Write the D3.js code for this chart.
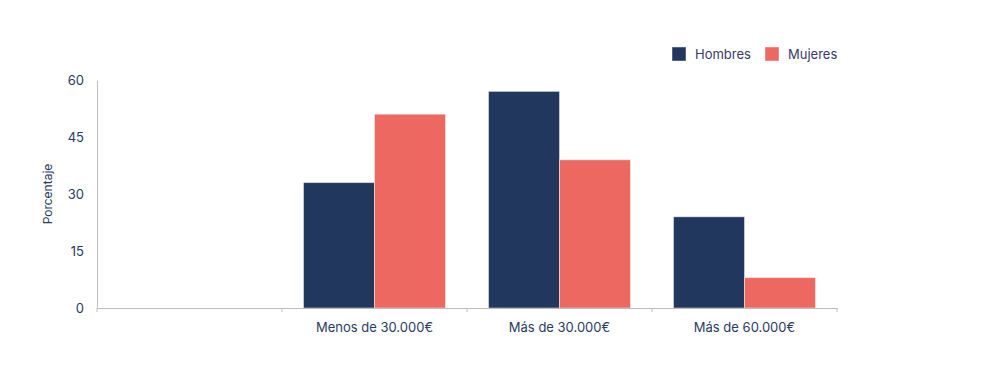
<!DOCTYPE html>
<html>
<head>
<meta charset="utf-8">
<script src="https://cdn.jsdelivr.net/npm/d3@7"></script>
<style>
  body { margin: 0; background: #fff; }
  text { font-family: Inter, "Noto Sans", sans-serif; }
</style>
</head>
<body>
<script>
// categories (first slot is empty in the original)
const categories = ["", "Menos de 30.000€", "Más de 30.000€", "Más de 60.000€"];
const seriesNames = ["Hombres", "Mujeres"];
const hombres = [null, 33, 57, 24];
const mujeres = [null, 51, 39, 8];
const yTicks = [0, 15, 30, 45, 60];
const colors = ["#22375e", "#ee6862"];

const width = 988, height = 377;
const margin = { top: 80, right: 151, bottom: 69, left: 97 };

const svg = d3.select("body").append("svg")
    .attr("width", width)
    .attr("height", height);

const x = d3.scaleBand()
    .domain(categories.map((d, i) => i))
    .range([margin.left, width - margin.right]);

const xInner = d3.scaleBand()
    .domain(seriesNames)
    .range([0, x.bandwidth()])
    .paddingOuter(0.303)
    .paddingInner(0);

const y = d3.scaleLinear()
    .domain([0, 60])
    .range([height - margin.bottom, margin.top]);

const textColor = "#2a3b5e";

// y axis
const yAxis = svg.append("g")
    .attr("transform", `translate(${margin.left},0)`)
    .call(d3.axisLeft(y).tickValues(yTicks).tickSize(0).tickPadding(13));
yAxis.select(".domain").attr("stroke", "#bdbdbd");
yAxis.selectAll("text")
    .attr("fill", textColor)
    .style("font-size", "13px");

svg.append("text")
    .attr("transform", `translate(52,${(y(0) + y(60)) / 2}) rotate(-90)`)
    .attr("text-anchor", "middle")
    .attr("fill", textColor)
    .style("font-size", "12px")
    .text("Porcentaje");

// bars
const rows = categories.map((c, i) => ({ i, values: [hombres[i], mujeres[i]] }));
const groups = svg.append("g")
    .selectAll("g")
    .data(rows)
    .join("g")
    .attr("transform", d => `translate(${x(d.i)},0)`);

groups.selectAll("rect")
    .data(d => d.values.map((v, k) => ({ name: seriesNames[k], value: v, k })).filter(d => d.value != null))
    .join("rect")
    .attr("x", d => xInner(d.name))
    .attr("y", d => y(d.value))
    .attr("width", xInner.bandwidth())
    .attr("height", d => y(0) - y(d.value))
    .attr("fill", d => colors[d.k])
    .attr("stroke", "rgba(255,255,255,0.45)")
    .attr("stroke-width", 1);

// x axis
const xAxis = svg.append("g")
    .attr("transform", `translate(0,${y(0)})`)
    .call(d3.axisBottom(x).tickFormat(i => categories[i]).tickSize(0).tickPadding(15));
xAxis.select(".domain").attr("stroke", "#bdbdbd");
xAxis.selectAll("text")
    .attr("fill", textColor)
    .style("font-size", "13px");

// boundary ticks
const bounds = categories.map((c, i) => x(i)).concat([x(categories.length - 1) + x.bandwidth()]);
svg.append("g")
    .selectAll("line")
    .data(bounds)
    .join("line")
    .attr("x1", d => d).attr("x2", d => d)
    .attr("y1", y(0)).attr("y2", y(0) + 4)
    .attr("stroke", "#bdbdbd");

// legend
const legendItems = [
  { name: seriesNames[0], color: colors[0], x: 672 },
  { name: seriesNames[1], color: colors[1], x: 765 }
];
const legend = svg.append("g").selectAll("g")
    .data(legendItems)
    .join("g")
    .attr("transform", d => `translate(${d.x},47)`);
legend.append("rect")
    .attr("width", 14).attr("height", 14)
    .attr("fill", d => d.color)
    .attr("stroke", "rgba(255,255,255,0.45)");
legend.append("text")
    .attr("x", 23).attr("y", 12)
    .attr("fill", "#3a3a6a")
    .style("font-size", "13px")
    .text(d => d.name);
</script>
</body>
</html>
